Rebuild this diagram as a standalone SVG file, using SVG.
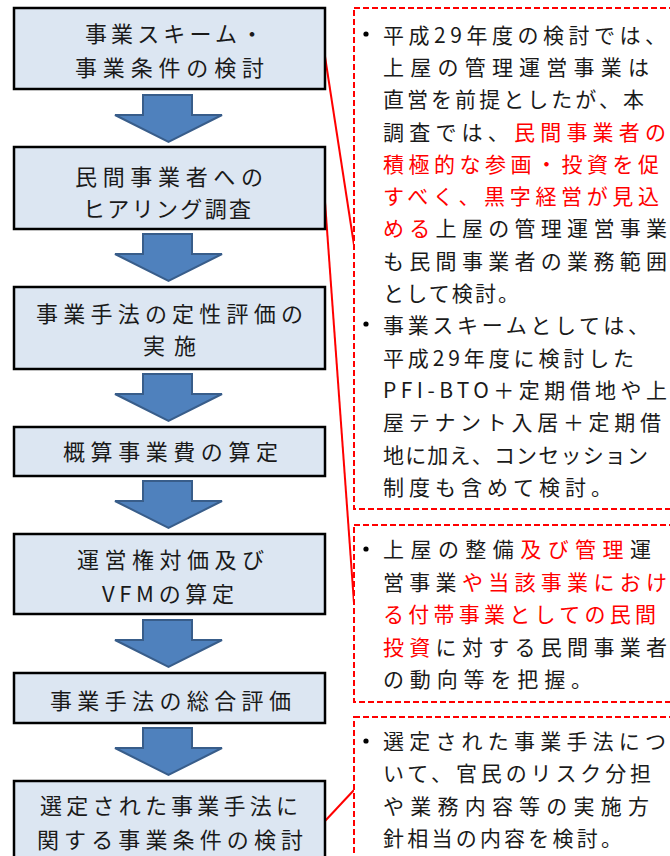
<svg xmlns="http://www.w3.org/2000/svg" width="670" height="856" viewBox="0 0 670 856">
<style>
.box{fill:#DCE6F2;stroke:#000;stroke-width:2.5}
.arr{fill:#4F81BD;stroke:#385D8A;stroke-width:2;stroke-linejoin:miter}
.bt{font-family:"Noto Sans CJK JP","Liberation Sans",sans-serif;font-size:22px;fill:#1a1a1a}
.rt{font-family:"Noto Sans CJK JP","Liberation Sans",sans-serif;font-size:21px;fill:#1a1a1a}
.red{fill:#FF0000}
.dash{fill:#fff;stroke:#FF0000;stroke-width:2;stroke-dasharray:6 3}
.con{fill:none;stroke:#FF0000;stroke-width:2}
.bul{fill:#000}
</style>
<rect width="670" height="856" fill="#fff"/>

<g id="connectors">
<line class="con" x1="324" y1="50" x2="354" y2="245"/>
<line class="con" x1="324" y1="188" x2="354" y2="603"/>
<line class="con" x1="325" y1="821" x2="354" y2="790"/>
<path class="arr" d="M143,95 L192,95 L192,115 L222,115 L168.5,142 L115,115 L143,115 Z"/>
<path class="arr" d="M143,234 L192,234 L192,254 L222,254 L168.5,281 L115,254 L143,254 Z"/>
<path class="arr" d="M143,374 L192,374 L192,394 L222,394 L168.5,421 L115,394 L143,394 Z"/>
<path class="arr" d="M143,481 L192,481 L192,501 L222,501 L168.5,528 L115,501 L143,501 Z"/>
<path class="arr" d="M143,620 L192,620 L192,640 L222,640 L168.5,667 L115,640 L143,640 Z"/>
<path class="arr" d="M143,728 L192,728 L192,748 L222,748 L168.5,775 L115,748 L143,748 Z"/>
</g>

<g id="step1">
<rect class="box" x="14" y="8" width="311" height="81"/>
<text class="bt" x="85" y="42" textLength="178" lengthAdjust="spacing">事業スキーム・</text>
<text class="bt" x="75" y="76" textLength="189" lengthAdjust="spacing">事業条件の検討</text>
</g>
<g id="step2">
<rect class="box" x="14" y="147" width="311" height="82"/>
<text class="bt" x="75" y="185" textLength="188" lengthAdjust="spacing">民間事業者への</text>
<text class="bt" x="83" y="217" textLength="168" lengthAdjust="spacing">ヒアリング調査</text>
</g>
<g id="step3">
<rect class="box" x="14" y="287" width="311" height="82"/>
<text class="bt" x="36" y="322" textLength="267" lengthAdjust="spacing">事業手法の定性評価の</text>
<text class="bt" x="143" y="354" textLength="53" lengthAdjust="spacing">実施</text>
</g>
<g id="step4">
<rect class="box" x="14" y="427" width="311" height="49"/>
<text class="bt" x="63" y="460" textLength="215" lengthAdjust="spacing">概算事業費の算定</text>
</g>
<g id="step5">
<rect class="box" x="14" y="534" width="311" height="80"/>
<text class="bt" x="77" y="568" textLength="187" lengthAdjust="spacing">運営権対価及び</text>
<text class="bt" x="102" y="602" textLength="132" lengthAdjust="spacing">VFMの算定</text>
</g>
<g id="step6">
<rect class="box" x="14" y="673" width="311" height="50"/>
<text class="bt" x="50" y="709" textLength="241" lengthAdjust="spacing">事業手法の総合評価</text>
</g>
<g id="step7">
<rect class="box" x="14" y="781" width="311" height="90"/>
<text class="bt" x="40" y="814" textLength="258" lengthAdjust="spacing">選定された事業手法に</text>
<text class="bt" x="37" y="848" textLength="266" lengthAdjust="spacing">関する事業条件の検討</text>
</g>

<g id="note1">
<rect class="dash" x="354" y="8" width="340" height="501"/>
<circle class="bul" cx="366" cy="34" r="2.6"/>
<text class="rt" x="383" y="43" textLength="283" lengthAdjust="spacing">平成29年度の検討では、</text>
<text class="rt" x="383" y="75" textLength="266" lengthAdjust="spacing">上屋の管理運営事業は</text>
<text class="rt" x="383" y="107" textLength="261" lengthAdjust="spacing">直営を前提としたが、本</text>
<text class="rt" x="383" y="140" textLength="283" lengthAdjust="spacing">調査では、<tspan class="red">民間事業者の</tspan></text>
<text class="rt red" x="383" y="172" textLength="276" lengthAdjust="spacing">積極的な参画・投資を促</text>
<text class="rt red" x="383" y="204" textLength="276" lengthAdjust="spacing">すべく、黒字経営が見込</text>
<text class="rt" x="383" y="236" textLength="284" lengthAdjust="spacing"><tspan class="red">める</tspan>上屋の管理運営事業</text>
<text class="rt" x="383" y="269" textLength="284" lengthAdjust="spacing">も民間事業者の業務範囲</text>
<text class="rt" x="383" y="301" textLength="136" lengthAdjust="spacing">として検討。</text>
<circle class="bul" cx="366" cy="324" r="2.6"/>
<text class="rt" x="383" y="333" textLength="266" lengthAdjust="spacing">事業スキームとしては、</text>
<text class="rt" x="383" y="366" textLength="251" lengthAdjust="spacing">平成29年度に検討した</text>
<text class="rt" x="383" y="398" textLength="284" lengthAdjust="spacing">PFI-BTO＋定期借地や上</text>
<text class="rt" x="383" y="430" textLength="278" lengthAdjust="spacing">屋テナント入居＋定期借</text>
<text class="rt" x="383" y="463" textLength="265" lengthAdjust="spacing">地に加え、コンセッション</text>
<text class="rt" x="383" y="495" textLength="229" lengthAdjust="spacing">制度も含めて検討。</text>
</g>

<g id="note2">
<rect class="dash" x="354" y="525" width="340" height="177"/>
<circle class="bul" cx="366" cy="549" r="2.6"/>
<text class="rt" x="383" y="557" textLength="268" lengthAdjust="spacing">上屋の整備<tspan class="red">及び管理</tspan>運</text>
<text class="rt" x="383" y="590" textLength="284" lengthAdjust="spacing">営事業<tspan class="red">や当該事業におけ</tspan></text>
<text class="rt red" x="383" y="622" textLength="273" lengthAdjust="spacing">る付帯事業としての民間</text>
<text class="rt" x="383" y="655" textLength="284" lengthAdjust="spacing"><tspan class="red">投資</tspan>に対する民間事業者</text>
<text class="rt" x="383" y="687" textLength="209" lengthAdjust="spacing">の動向等を把握。</text>
</g>

<g id="note3">
<rect class="dash" x="354" y="717" width="340" height="160"/>
<circle class="bul" cx="366" cy="741" r="2.6"/>
<text class="rt" x="383" y="749" textLength="283" lengthAdjust="spacing">選定された事業手法につ</text>
<text class="rt" x="383" y="781" textLength="268" lengthAdjust="spacing">いて、官民のリスク分担</text>
<text class="rt" x="383" y="814" textLength="266" lengthAdjust="spacing">や業務内容等の実施方</text>
<text class="rt" x="383" y="846" textLength="239" lengthAdjust="spacing">針相当の内容を検討。</text>
</g>
</svg>
